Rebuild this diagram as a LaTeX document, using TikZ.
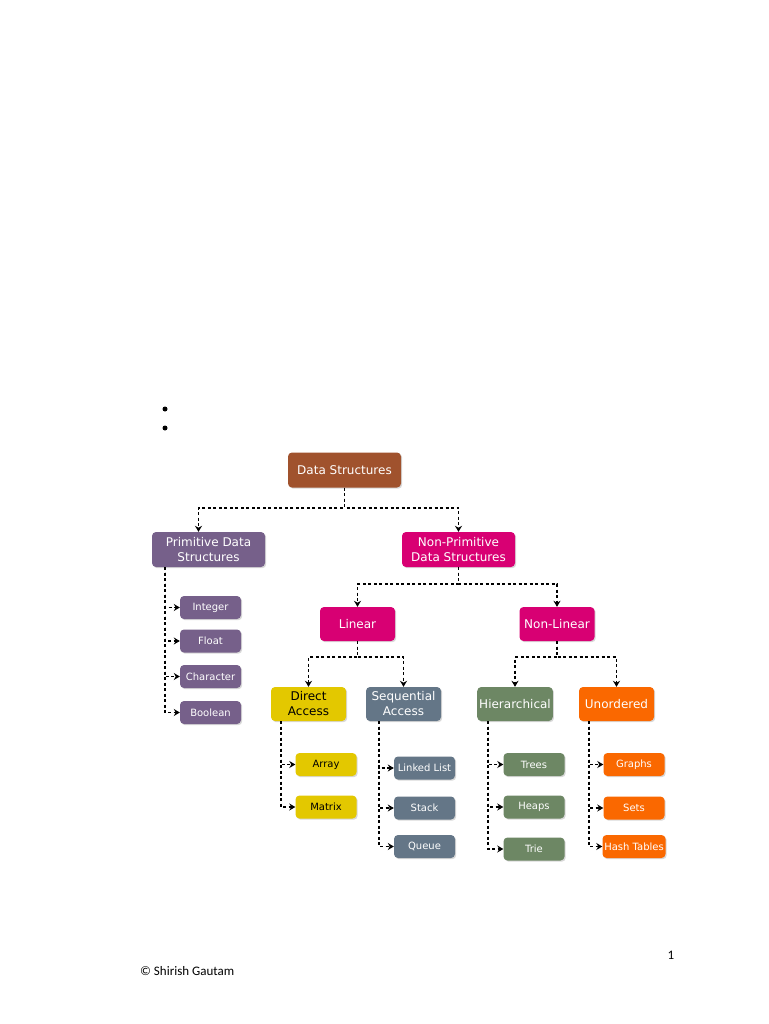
\documentclass[tikz,border=0pt]{standalone}
\usepackage{fontspec}
\setmainfont{DejaVu Sans}
\newfontfamily\pagefont{Carlito}
\usetikzlibrary{positioning, arrows.meta, shadows}

\definecolor{dsbrown}{HTML}{A0522D}
\definecolor{dspurple}{HTML}{76608A}
\definecolor{dsmagenta}{HTML}{D80073}
\definecolor{dsyellow}{HTML}{E3C800}
\definecolor{dsslate}{HTML}{647687}
\definecolor{dsgreen}{HTML}{6D8764}
\definecolor{dsorange}{HTML}{FA6800}

\begin{document}
\begin{tikzpicture}[x=1pt, y=-1pt, on grid, auto]
                \tikzset{
                    box/.style={rounded corners=4pt, text=white, align=center,
                        minimum width=113pt, minimum height=35pt, inner sep=2pt,
                        font=\fontsize{12}{15}\selectfont,
                        drop shadow={shadow xshift=1.2pt, shadow yshift=-1.2pt, opacity=0.3}},
                    midbox/.style={box, minimum width=75pt, minimum height=34pt},
                    leaf/.style={box, minimum width=61pt, minimum height=23pt, inner sep=1pt,
                        font=\fontsize{10}{11}\selectfont},
                    link/.style={line width=1.6pt, dash pattern=on 3pt off 2.5pt,
                        -{Stealth[length=6pt, width=7pt]}},
                    dot/.style={circle, fill=black, inner sep=0pt, minimum size=5pt}
                }

                % PAGE
                \fill[white] (0,0) rectangle (768,1024);
                \useasboundingbox (0,0) rectangle (768,1024);
                \node[dot] (bullet1) at (165,409) {};
                \node[dot] (bullet2) at (165,428) {};

                % ROOT
                \node[box, fill=dsbrown] (ds) at (344.5,470) {Data Structures};

                % FIRST LEVEL
                \node[box, fill=dspurple] (pds) at (208.5,549.5) {Primitive Data\\Structures};
                \node[box, fill=dsmagenta] (npds) [right=250pt of pds] {Non-Primitive\\Data Structures};

                % SECOND LEVEL
                \node[midbox, fill=dsmagenta] (linear) at (357.5,624) {Linear};
                \node[midbox, fill=dsmagenta] (nonlinear) [right=199.5pt of linear] {Non-Linear};

                % THIRD LEVEL
                \node[midbox, fill=dsyellow, text=black] (direct) at (308.5,704) {Direct\\Access};
                \node[midbox, fill=dsslate] (sequential) [right=95pt of direct] {Sequential\\Access};
                \node[midbox, fill=dsgreen] (hierarchical) at (515,704) {Hierarchical};
                \node[midbox, fill=dsorange] (unordered) [right=101.5pt of hierarchical] {Unordered};

                % PRIMITIVE TYPES
                \node[leaf, fill=dspurple] (integer) at (210.5,607.5) {Integer};
                \node[leaf, fill=dspurple] (float) [below=33.5pt of integer] {Float};
                \node[leaf, fill=dspurple] (character) [below=35.5pt of float] {Character};
                \node[leaf, fill=dspurple] (boolean) [below=36pt of character] {Boolean};

                % LINEAR TYPES
                \node[leaf, fill=dsyellow, text=black] (array) at (326,764.5) {Array};
                \node[leaf, fill=dsyellow, text=black] (matrix) [below=42.5pt of array] {Matrix};
                \node[leaf, fill=dsslate] (linkedlist) at (424.5,768) {Linked List};
                \node[leaf, fill=dsslate] (stack) [below=40pt of linkedlist] {Stack};
                \node[leaf, fill=dsslate] (queue) [below=38.5pt of stack] {Queue};

                % NON-LINEAR TYPES
                \node[leaf, fill=dsgreen] (trees) at (534,764.5) {Trees};
                \node[leaf, fill=dsgreen] (heaps) [below=42.5pt of trees] {Heaps};
                \node[leaf, fill=dsgreen] (trie) [below=42pt of heaps] {Trie};
                \node[leaf, fill=dsorange] (graphs) at (634,764.5) {Graphs};
                \node[leaf, fill=dsorange] (sets) [below=43.5pt of graphs] {Sets};
                \node[leaf, fill=dsorange, minimum width=63pt] (hashtables) [below=38.5pt of sets] {Hash Tables};

                % TREE LINKS
                \draw[link] (ds.south) -- ++(0,20) -| ([xshift=-10pt]pds.north);
                \draw[link] (ds.south) -- ++(0,20) -| (npds.north);
                \draw[link] (npds.south) -- ++(0,17) -| (linear.north);
                \draw[link] (npds.south) -- ++(0,17) -| (nonlinear.north);
                \draw[link] (linear.south) -- ++(0,16) -| (direct.north);
                \draw[link] (linear.south) -- ++(0,16) -| (sequential.north);
                \draw[link] (nonlinear.south) -- ++(0,16) -| (hierarchical.north);
                \draw[link] (nonlinear.south) -- ++(0,16) -| (unordered.north);

                % RAILS
                \coordinate (prail) at ([xshift=-43.5pt]pds.south);
                \coordinate (drail) at ([xshift=-27.5pt]direct.south);
                \coordinate (srail) at ([xshift=-24.5pt]sequential.south);
                \coordinate (hrail) at ([xshift=-27pt]hierarchical.south);
                \coordinate (urail) at ([xshift=-27.5pt]unordered.south);
                \foreach \c in {integer, float, character, boolean}
                    \draw[link] (prail) |- (\c.west);
                \foreach \c in {array, matrix}
                    \draw[link] (drail) |- (\c.west);
                \foreach \c in {linkedlist, stack, queue}
                    \draw[link] (srail) |- (\c.west);
                \foreach \c in {trees, heaps, trie}
                    \draw[link] (hrail) |- (\c.west);
                \foreach \c in {graphs, sets, hashtables}
                    \draw[link] (urail) |- (\c.west);

                % FOOTER
                \node[font=\pagefont\fontsize{13}{15}\selectfont] (pagenum) at (671,955) {1};
                \node[font=\pagefont\fontsize{13}{15}\selectfont, anchor=west, inner sep=0pt] (credit) at (140,971) {© Shirish Gautam};

            \end{tikzpicture}
\end{document}
